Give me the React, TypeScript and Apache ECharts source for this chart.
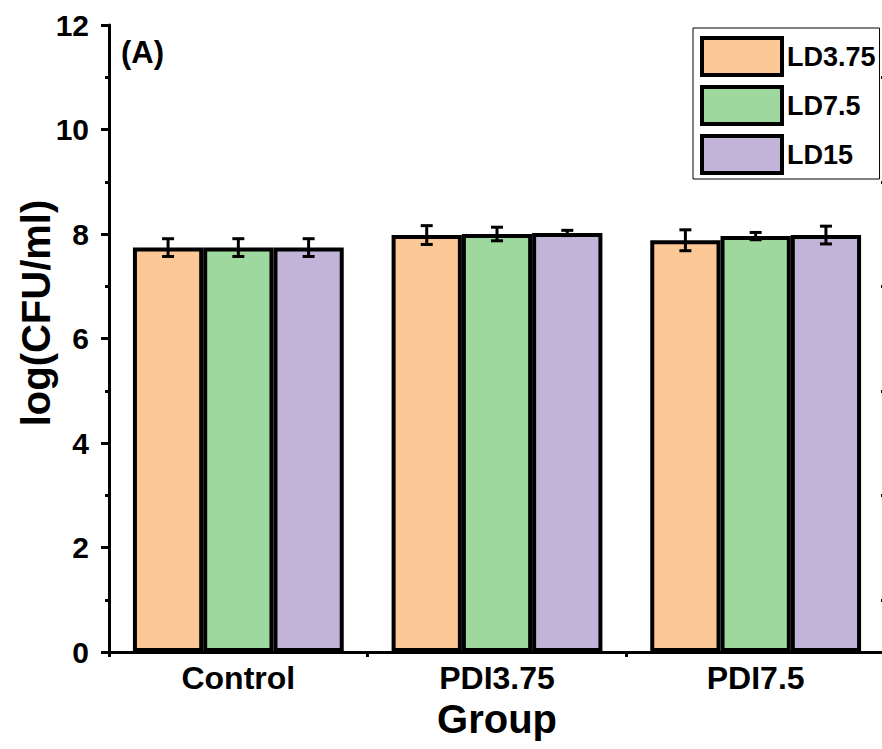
import React, { useEffect, useRef } from "react";
import * as echarts from "echarts";

const categories = ["Control", "PDI3.75", "PDI7.5"];
const seriesNames = ["LD3.75", "LD7.5", "LD15"];
const ld375 = [7.74, 7.98, 7.88];
const ld75 = [7.74, 8.0, 7.96];
const ld15 = [7.74, 8.02, 7.98];
const err375 = [0.17, 0.18, 0.2];
const err75 = [0.17, 0.13, 0.07];
const err15 = [0.17, 0.05, 0.17];
const colors = ["#FCC896", "#9ED89E", "#C2B3D8"];

const FONT = "'Liberation Sans', Arial, sans-serif";
const GAP = 0.185;

export default function App() {
  const ref = useRef<HTMLDivElement>(null);
  useEffect(() => {
    if (!ref.current) return;
    const chart = echarts.init(ref.current, null, { renderer: "svg" });
    const means = [ld375, ld75, ld15];
    const errs = [err375, err75, err15];

    const barSeries = seriesNames.map((name, i) => ({
      name,
      type: "bar",
      data: means[i],
      barGap: "0%",
      barCategoryGap: GAP * 100 + "%",
      itemStyle: { color: colors[i], borderColor: "#000", borderWidth: 4 },
      z: 2,
    }));

    const errSeries = seriesNames.map((name, i) => ({
      name: name + " err",
      type: "custom",
      z: 5,
      data: categories.map((c, k) => [k, means[i][k], errs[i][k]]),
      encode: { x: 0, y: 1 },
      renderItem: (params: any, api: any) => {
        const k = api.value(0);
        const m = api.value(1);
        const e = api.value(2);
        const band = api.size([1, 0])[0];
        const bw = (band * (1 - GAP)) / 3;
        const off = (i - 1) * bw;
        const top = api.coord([k, m + e]);
        const bot = api.coord([k, m - e]);
        const x = top[0] + off;
        const cap = 6;
        const style = { stroke: "#000", lineWidth: 3 };
        return {
          type: "group",
          children: [
            { type: "line", shape: { x1: x, y1: top[1], x2: x, y2: bot[1] }, style },
            { type: "line", shape: { x1: x - cap, y1: top[1], x2: x + cap, y2: top[1] }, style },
            { type: "line", shape: { x1: x - cap, y1: bot[1], x2: x + cap, y2: bot[1] }, style },
          ],
        };
      },
    }));

    chart.setOption({
      animation: false,
      textStyle: { fontFamily: FONT },
      grid: { left: 109, top: 25, width: 776, height: 627, outerBoundsMode: "none", containLabel: false },
      legend: {
        data: seriesNames,
        orient: "vertical",
        left: 693,
        top: 28,
        padding: [8, 4, 4, 7],
        itemGap: 8,
        itemWidth: 80,
        itemHeight: 37,
        icon: "rect",
        borderColor: "#000",
        borderWidth: 1,
        itemStyle: { borderColor: "#000", borderWidth: 4 },
        textStyle: { fontFamily: FONT, fontWeight: "bold", fontSize: 27, color: "#000" },
      },
      xAxis: [
        {
          type: "category",
          data: categories,
          position: "bottom",
          name: "Group",
          nameLocation: "middle",
          nameGap: 47,
          nameTextStyle: { fontFamily: FONT, fontWeight: "bold", fontSize: 40, color: "#000" },
          axisLine: { lineStyle: { color: "#000", width: 3 } },
          axisTick: { show: true, length: 5, lineStyle: { color: "#000", width: 3 } },
          axisLabel: { fontFamily: FONT, fontWeight: "bold", fontSize: 32, color: "#000", margin: 10 },
        },
        {
          type: "category",
          data: categories,
          position: "top",
          axisLine: { lineStyle: { color: "#000", width: 3 } },
          axisTick: { show: true, inside: true, length: 5, lineStyle: { color: "#000", width: 3 } },
          axisLabel: { show: false },
        },
      ],
      yAxis: [
        {
          type: "value",
          min: 0,
          max: 12,
          interval: 2,
          axisLine: { show: true, lineStyle: { color: "#000", width: 3 } },
          axisTick: { show: true, length: 8, lineStyle: { color: "#000", width: 3 } },
          minorTick: { show: true, splitNumber: 2, length: 4, lineStyle: { color: "#000", width: 3 } },
          splitLine: { show: false },
          axisLabel: { fontFamily: FONT, fontWeight: "bold", fontSize: 30, color: "#000", margin: 20 },
        },
        {
          type: "value",
          min: 0,
          max: 12,
          interval: 2,
          position: "right",
          axisLine: { show: true, lineStyle: { color: "#000", width: 3 } },
          axisTick: { show: false, inside: true },
          minorTick: { show: true, splitNumber: 2, length: 4, lineStyle: { color: "#000", width: 3 } },
          splitLine: { show: false },
          axisLabel: { show: false },
        },
      ],
      graphic: [
        {
          type: "text",
          left: 121,
          top: 37,
          style: { text: "(A)", fontFamily: FONT, fontWeight: "bold", fontSize: 31, fill: "#000" },
        },
        {
          type: "text",
          x: 36,
          y: 313,
          rotation: Math.PI / 2,
          style: {
            text: "log(CFU/ml)",
            fontFamily: FONT,
            fontWeight: "bold",
            fontSize: 40,
            fill: "#000",
            align: "center",
            verticalAlign: "middle",
          },
        },
      ],
      series: [...barSeries, ...errSeries],
    });
    return () => chart.dispose();
  }, []);
  return (
    <div
      ref={ref}
      style={{ position: "fixed", left: 0, top: 0, width: 882, height: 749, background: "#fff" }}
    />
  );
}
